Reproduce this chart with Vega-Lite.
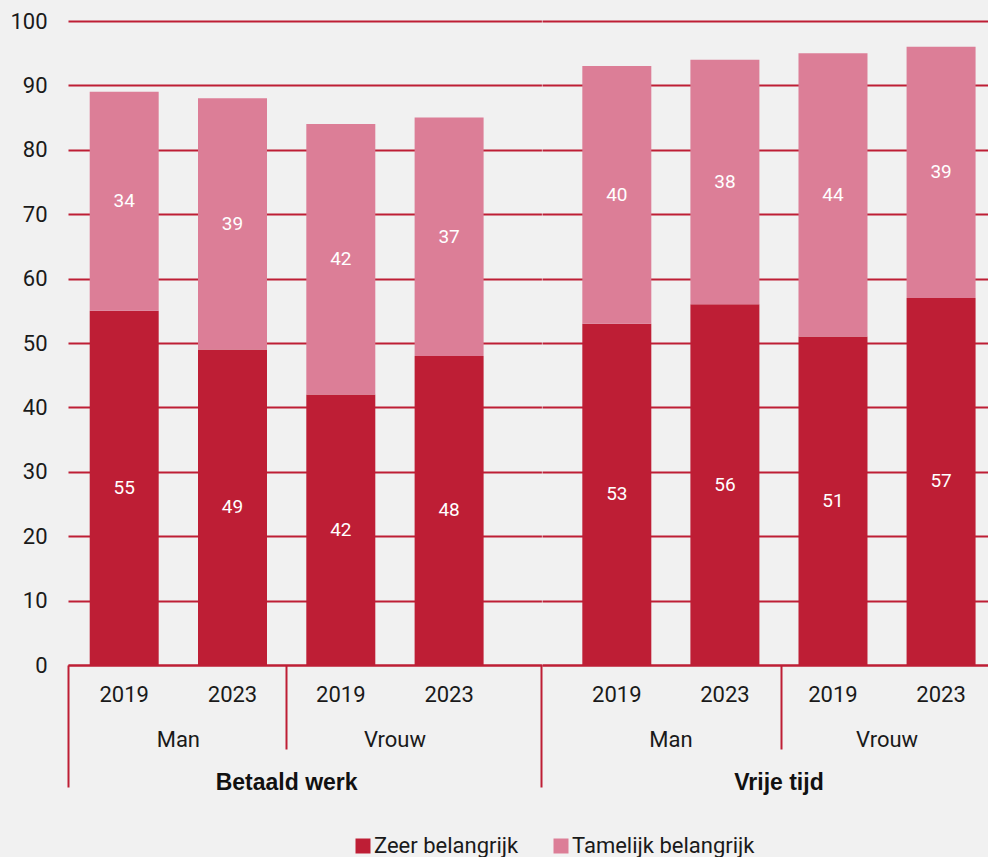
{
  "$schema": "https://vega.github.io/schema/vega-lite/v6.json",
  "background": "#f1f1f1",
  "padding": {"left": 9, "top": 10, "right": 0, "bottom": 0},
  "config": {
    "view": {"stroke": null},
    "font": "Roboto",
    "axis": {"labelFont": "Roboto", "labelColor": "#1a1a1a", "title": null, "grid": false, "labelAngle": 0}
  },
  "data": {
    "values": [
      {"group": "Betaald werk", "key": "Man 2019", "cat": "Zeer belangrijk", "pct": 55},
      {"group": "Betaald werk", "key": "Man 2019", "cat": "Tamelijk belangrijk", "pct": 34},
      {"group": "Betaald werk", "key": "Man 2023", "cat": "Zeer belangrijk", "pct": 49},
      {"group": "Betaald werk", "key": "Man 2023", "cat": "Tamelijk belangrijk", "pct": 39},
      {"group": "Betaald werk", "key": "Vrouw 2019", "cat": "Zeer belangrijk", "pct": 42},
      {"group": "Betaald werk", "key": "Vrouw 2019", "cat": "Tamelijk belangrijk", "pct": 42},
      {"group": "Betaald werk", "key": "Vrouw 2023", "cat": "Zeer belangrijk", "pct": 48},
      {"group": "Betaald werk", "key": "Vrouw 2023", "cat": "Tamelijk belangrijk", "pct": 37},
      {"group": "Vrije tijd", "key": "Man 2019", "cat": "Zeer belangrijk", "pct": 53},
      {"group": "Vrije tijd", "key": "Man 2019", "cat": "Tamelijk belangrijk", "pct": 40},
      {"group": "Vrije tijd", "key": "Man 2023", "cat": "Zeer belangrijk", "pct": 56},
      {"group": "Vrije tijd", "key": "Man 2023", "cat": "Tamelijk belangrijk", "pct": 38},
      {"group": "Vrije tijd", "key": "Vrouw 2019", "cat": "Zeer belangrijk", "pct": 51},
      {"group": "Vrije tijd", "key": "Vrouw 2019", "cat": "Tamelijk belangrijk", "pct": 44},
      {"group": "Vrije tijd", "key": "Vrouw 2023", "cat": "Zeer belangrijk", "pct": 57},
      {"group": "Vrije tijd", "key": "Vrouw 2023", "cat": "Tamelijk belangrijk", "pct": 39}
    ]
  },
  "spacing": 0,
  "bounds": "flush",
  "hconcat": [
    {
      "width": 473.4,
      "height": 644,
      "transform": [
        {"filter": "datum.group === 'Betaald werk'"},
        {"stack": "pct", "groupby": ["key"], "sort": [{"field": "cat", "order": "descending"}], "as": ["lo", "hi"]}
      ],
      "resolve": {"axis": {"x": "independent"}},
      "layer": [
        {
          "mark": {"type": "bar"},
          "encoding": {
            "x": {
              "field": "key", "type": "nominal",
              "scale": {"domain": ["Man 2019", "Man 2023", "Vrouw 2019", "Vrouw 2023"], "paddingInner": 0.363, "paddingOuter": 0.367, "align": 0.273},
              "axis": {"orient": "bottom", "labelExpr": "split(datum.value, ' ')[1]", "ticks": false, "tickSize": 0, "labelPadding": 19, "labelFontSize": 22, "labelAngle": 0, "domain": true, "domainColor": "#be1e35", "domainWidth": 2, "labelOverlap": false}
            },
            "y": {
              "field": "lo", "type": "quantitative",
              "scale": {"domain": [0, 100], "nice": false},
              "axis": {"title": null, "values": [0, 10, 20, 30, 40, 50, 60, 70, 80, 90, 100], "grid": true, "gridColor": "#be1e35", "gridWidth": 2, "ticks": false, "tickSize": 0, "domain": false, "labelFontSize": 22, "labelPadding": 21}
            },
            "y2": {"field": "hi"},
            "color": {
              "field": "cat", "type": "nominal",
              "scale": {"domain": ["Zeer belangrijk", "Tamelijk belangrijk"], "range": ["#be1e35", "#dc7e97"]},
              "legend": {"title": null, "orient": "none", "legendX": 284, "legendY": 814, "direction": "horizontal", "symbolType": "square", "symbolSize": 225, "symbolStrokeWidth": 0, "labelFontSize": 22, "labelFont": "Roboto", "labelColor": "#1a1a1a", "labelLimit": 400, "columnPadding": 31, "labelOffset": 0}
            }
          }
        },
        {
          "transform": [{"fold": ["lo", "hi"], "as": ["edge", "pos"]}],
          "mark": {"type": "text", "color": "white", "fontSize": 19, "baseline": "middle", "font": "Roboto"},
          "encoding": {
            "x": {
              "field": "key", "type": "nominal",
              "axis": {"orient": "bottom", "values": ["Man 2019", "Vrouw 2019"], "labelOffset": 54.15, "labelExpr": "split(datum.value, ' ')[0]", "ticks": false, "tickSize": 0, "domain": false, "labelPadding": 64, "labelFontSize": 22, "labelAngle": 0, "labelOverlap": false}
            },
            "y": {
              "aggregate": "mean", "field": "pos", "type": "quantitative",
              "axis": {"title": null, "values": [0, 10, 20, 30, 40, 50, 60, 70, 80, 90, 100], "grid": true, "gridColor": "#be1e35", "gridWidth": 2, "ticks": false, "tickSize": 0, "domain": false, "labelFontSize": 22, "labelPadding": 21}
            },
            "text": {"field": "pct", "type": "quantitative"},
            "detail": {"field": "cat"}
          }
        },
        {
          "mark": {"type": "text", "text": ""},
          "encoding": {
            "x": {
              "field": "key", "type": "nominal",
              "axis": {"orient": "bottom", "values": ["Man 2023"], "bandPosition": 1.285, "labelOffset": 54.15, "labelExpr": "'Betaald werk'", "ticks": true, "tickSize": 84, "tickWidth": 2, "tickColor": "#be1e35", "domain": false, "labelPadding": 22, "labelFont": "Liberation Sans", "labelFontWeight": "bold", "labelFontSize": 23, "labelColor": "#111111", "labelAngle": 0, "labelOverlap": false}
            }
          }
        },
        {
          "mark": {"type": "text", "text": ""},
          "encoding": {
            "x": {
              "field": "key", "type": "nominal",
              "axis": {"orient": "bottom", "values": ["Man 2019"], "bandPosition": -0.3145, "labels": false, "ticks": true, "tickSize": 122, "tickWidth": 2, "tickColor": "#be1e35", "domain": false}
            }
          }
        },
        {
          "mark": {"type": "text", "text": ""},
          "encoding": {
            "x": {
              "field": "key", "type": "nominal",
              "axis": {"orient": "bottom", "values": ["Vrouw 2023"], "bandPosition": 1.838, "labels": false, "ticks": true, "tickSize": 122, "tickWidth": 2, "tickColor": "#be1e35", "domain": false}
            }
          }
        }
      ]
    },
    {
      "width": 447.3,
      "height": 644,
      "transform": [
        {"filter": "datum.group === 'Vrije tijd'"},
        {"stack": "pct", "groupby": ["key"], "sort": [{"field": "cat", "order": "descending"}], "as": ["lo", "hi"]}
      ],
      "resolve": {"axis": {"x": "independent"}},
      "layer": [
        {
          "mark": {"type": "bar"},
          "encoding": {
            "x": {
              "field": "key", "type": "nominal",
              "scale": {"domain": ["Man 2019", "Man 2023", "Vrouw 2019", "Vrouw 2023"], "paddingInner": 0.3617, "paddingOuter": 0.25, "align": 0.746},
              "axis": {"orient": "bottom", "labelExpr": "split(datum.value, ' ')[1]", "ticks": false, "tickSize": 0, "labelPadding": 19, "labelFontSize": 22, "labelAngle": 0, "domain": true, "domainColor": "#be1e35", "domainWidth": 2, "labelOverlap": false}
            },
            "y": {
              "field": "lo", "type": "quantitative",
              "scale": {"domain": [0, 100], "nice": false},
              "axis": {"title": null, "values": [0, 10, 20, 30, 40, 50, 60, 70, 80, 90, 100], "grid": true, "gridColor": "#be1e35", "gridWidth": 2, "ticks": false, "tickSize": 0, "domain": false, "labels": false}
            },
            "y2": {"field": "hi"},
            "color": {"field": "cat", "type": "nominal", "scale": {"domain": ["Zeer belangrijk", "Tamelijk belangrijk"], "range": ["#be1e35", "#dc7e97"]}}
          }
        },
        {
          "transform": [{"fold": ["lo", "hi"], "as": ["edge", "pos"]}],
          "mark": {"type": "text", "color": "white", "fontSize": 19, "baseline": "middle", "font": "Roboto"},
          "encoding": {
            "x": {
              "field": "key", "type": "nominal",
              "axis": {"orient": "bottom", "values": ["Man 2019", "Vrouw 2019"], "labelOffset": 54.05, "labelExpr": "split(datum.value, ' ')[0]", "ticks": false, "tickSize": 0, "domain": false, "labelPadding": 64, "labelFontSize": 22, "labelAngle": 0, "labelOverlap": false}
            },
            "y": {
              "aggregate": "mean", "field": "pos", "type": "quantitative",
              "axis": {"title": null, "values": [0, 10, 20, 30, 40, 50, 60, 70, 80, 90, 100], "grid": true, "gridColor": "#be1e35", "gridWidth": 2, "ticks": false, "tickSize": 0, "domain": false, "labels": false}
            },
            "text": {"field": "pct", "type": "quantitative"},
            "detail": {"field": "cat"}
          }
        },
        {
          "mark": {"type": "text", "text": ""},
          "encoding": {
            "x": {
              "field": "key", "type": "nominal",
              "axis": {"orient": "bottom", "values": ["Man 2023"], "bandPosition": 1.32, "labelOffset": 54.05, "labelExpr": "'Vrije tijd'", "ticks": true, "tickSize": 84, "tickWidth": 2, "tickColor": "#be1e35", "domain": false, "labelPadding": 22, "labelFont": "Liberation Sans", "labelFontWeight": "bold", "labelFontSize": 23, "labelColor": "#111111", "labelAngle": 0, "labelOverlap": false}
            }
          }
        }
      ]
    }
  ]
}
